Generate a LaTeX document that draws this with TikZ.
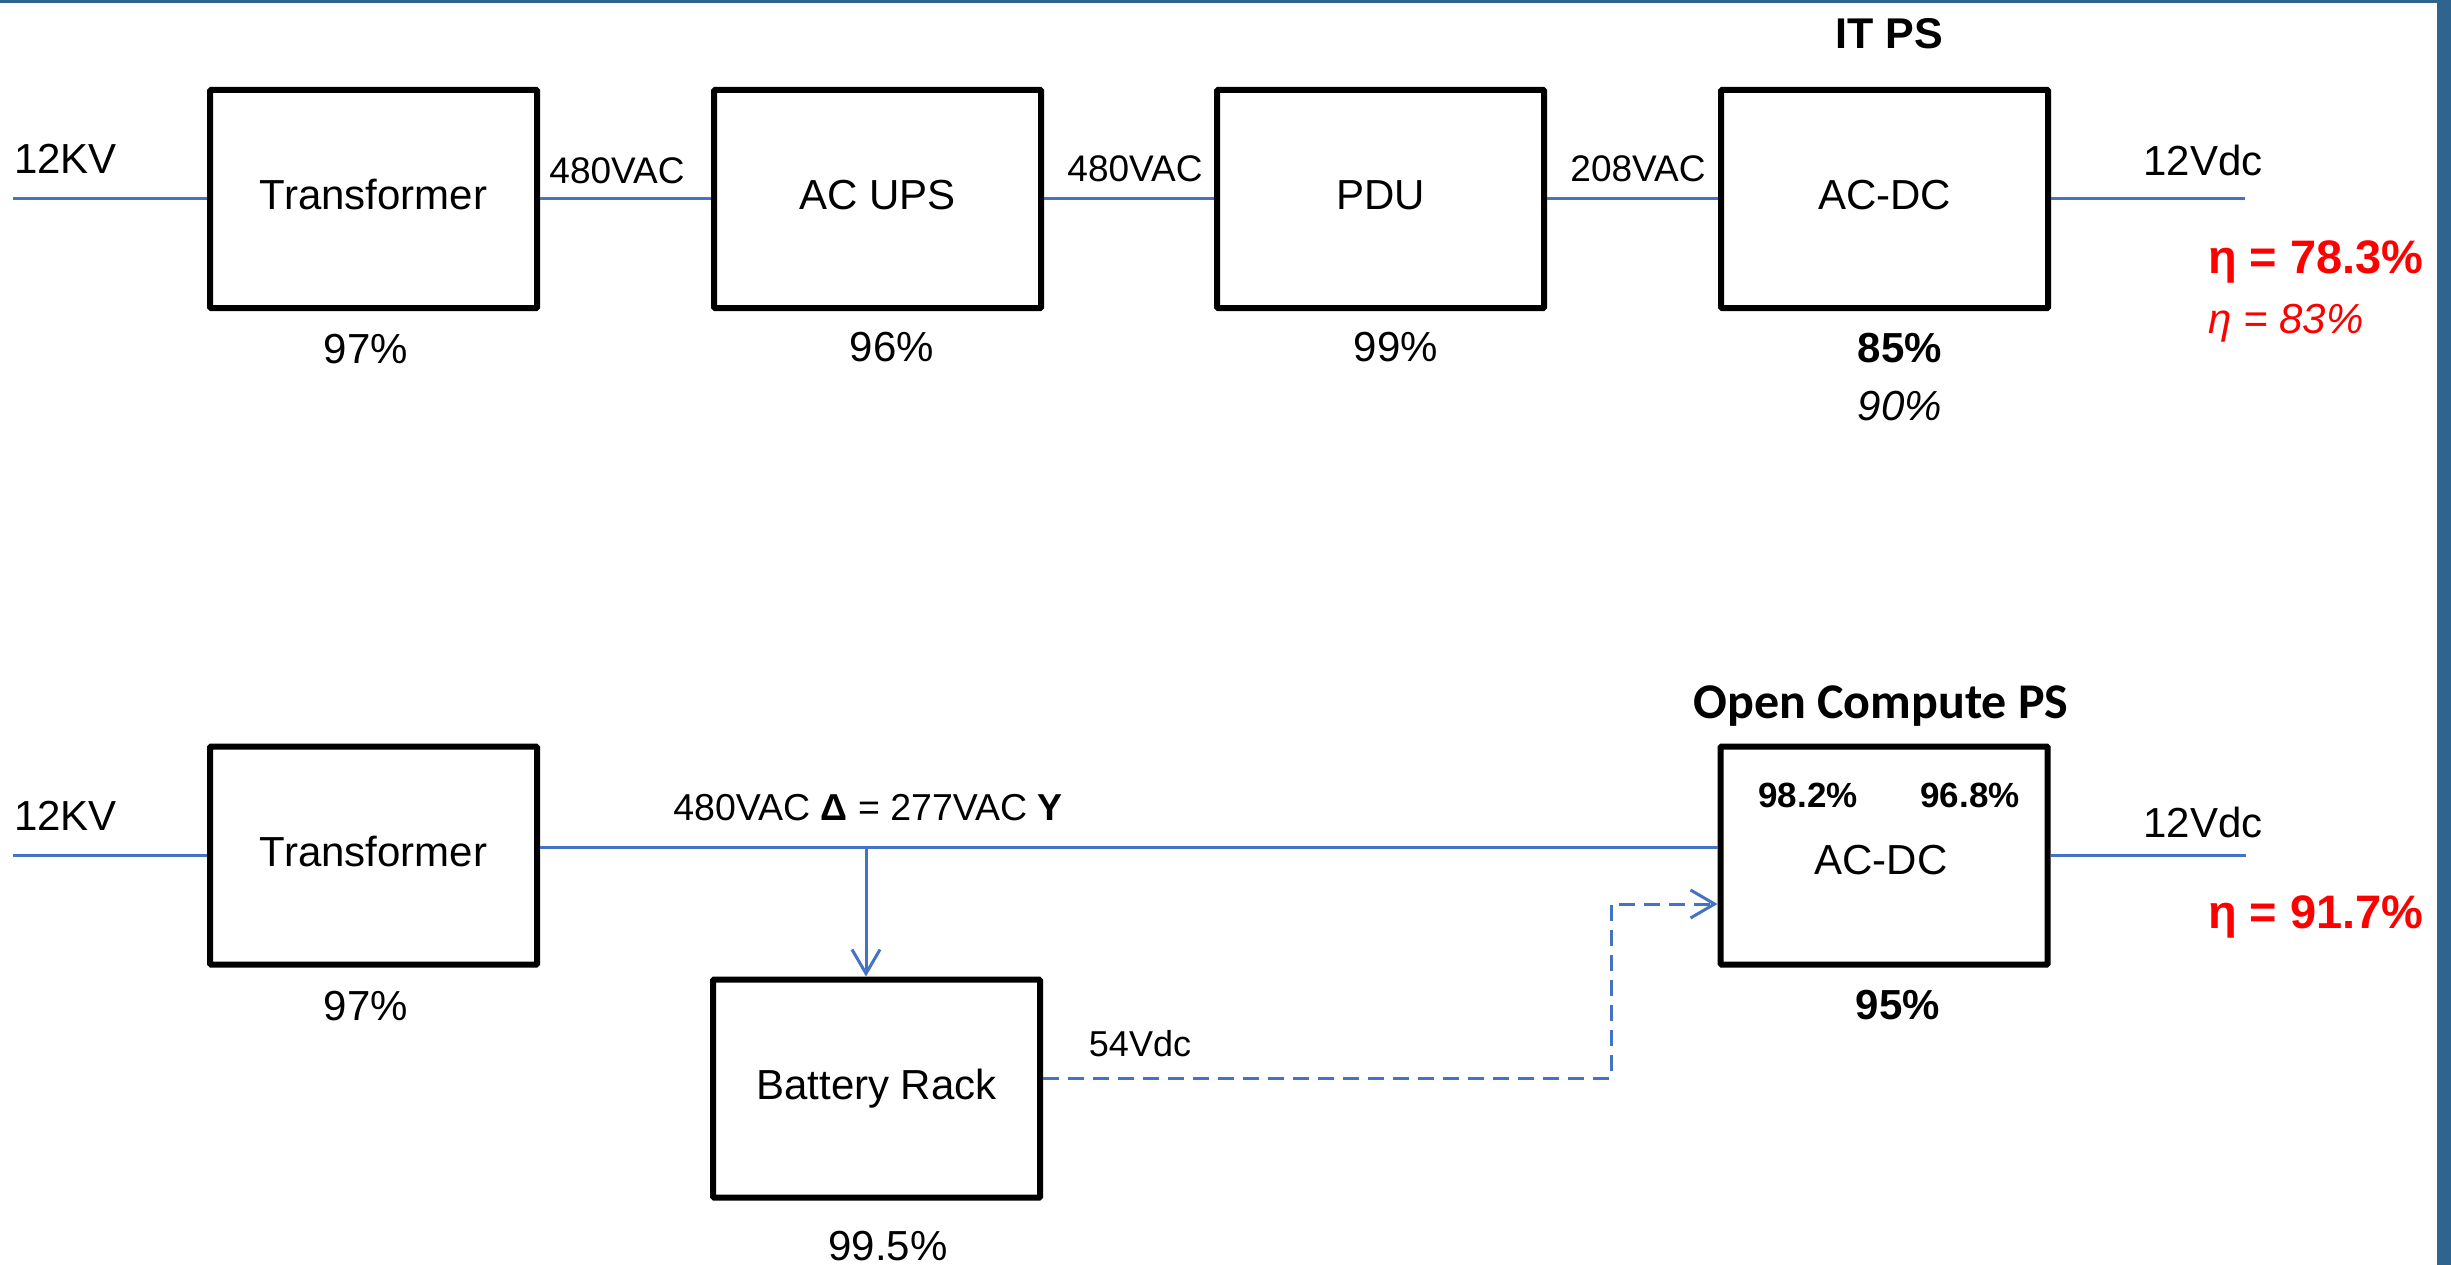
\documentclass[tikz,border=0pt]{standalone}
\usepackage{fontspec}
\setmainfont{Liberation Sans}
\newfontfamily\ocpfont{Carlito}
\usetikzlibrary{arrows.meta}
\definecolor{wireblue}{HTML}{4472C4}
\definecolor{framebar}{HTML}{2D6590}
\definecolor{effred}{HTML}{FF0000}
\newcommand{\pxsize}[1]{\fontsize{#1}{#1}\selectfont}
\begin{document}
\begin{tikzpicture}[x=1pt, y=-1pt,
  unit/.style={draw=black, line width=6pt, rounded corners=1pt,
    minimum width=327pt, minimum height=218pt, inner sep=0pt,
    font=\pxsize{42}, text height=30pt, text depth=8pt},
  txt/.style={inner sep=0pt, font=\pxsize{42}},
  volt/.style={inner sep=0pt, font=\pxsize{37}},
  wire/.style={draw=wireblue, line width=3pt},
  feed/.style={wire, dash pattern=on 16pt off 9pt},
  barb/.style={-{Straight Barb[length=24pt, width=28pt]}},
  eff/.style={inner sep=0pt, text=effred, anchor=base west}]

% canvas and frame
\useasboundingbox (0,0) rectangle (2451,1265);
\fill[white] (0,0) rectangle (2451,1265);
\fill[framebar] (0,0) rectangle (2451,3);
\fill[framebar] (2437,0) rectangle (2451,1265);

% ---------- conventional chain ----------
\node[unit] (xf1) at (373.5,199) {Transformer};
\node[unit] (ups) at (877.5,199) {AC UPS};
\node[unit] (pdu) at (1380.5,199) {PDU};
\node[unit] (psu1) at (1884.5,199) {AC-DC};

\coordinate (in1) at (13,199);
\coordinate (out1) at (2245,199);
\draw[wire] (in1) -- (xf1.west);
\draw[wire] (xf1.east) -- (ups.west);
\draw[wire] (ups.east) -- (pdu.west);
\draw[wire] (pdu.east) -- (psu1.west);
\draw[wire] (psu1.east) -- (out1);

\node[txt, anchor=west] (kv1) at (14,159) {12KV};
\node[volt] (v1) at (617,171) {480VAC};
\node[volt] (v2) at (1135,169) {480VAC};
\node[volt] (v3) at (1638,169) {208VAC};
\node[txt] (dc1) at (2203,160) {12Vdc};
\node[inner sep=0pt, font=\pxsize{43}\bfseries] (itps) at (1889,34) {IT PS};

\node[txt] (e11) at (366,349) {97\%};
\node[txt] (e12) at (892,347) {96\%};
\node[txt] (e13) at (1396,347) {99\%};
\node[txt, font=\pxsize{42}\bfseries] (e14) at (1900,348) {85\%};
\node[txt, font=\pxsize{42}\itshape] (e15) at (1900,406) {90\%};

\node[eff, font=\pxsize{47}\bfseries] (eta1) at (2208,273) {η = 78.3\%};
\node[eff, font=\pxsize{42}\itshape] (eta1b) at (2208,333) {η = 83\%};

% ---------- Open Compute chain ----------
\node[unit] (xf2) at (373.5,855.5) {Transformer};
\node[unit] (batt) at (876.5,1088.5) {Battery Rack};
\node[unit] (psu2) at (1884,855.5) {};
\node[txt] (psu2txt) at (1881,860) {AC-DC};

\coordinate (in2) at (13,855);
\coordinate (out2) at (2246,855.5);
\coordinate (tap) at (866,847);
\coordinate (bend1) at (1611,1078);
\coordinate (bend2) at (1611,904);

\draw[wire] (in2) -- (in2 -| xf2.west);
\draw[wire] ([yshift=8.5pt]xf2.east) -- ([yshift=8.5pt]psu2.west);
\draw[wire, barb] (tap) -- (tap |- batt.north);
\draw[wire] (psu2.east) -- (out2);
\draw[feed, barb] ([yshift=10.5pt]batt.east) -- (bend1) -- (bend2) -- (bend2 -| psu2.west);

\node[txt, anchor=west] (kv2) at (14,816) {12KV};
\node[volt, font=\pxsize{37.5}] (bus) at (868,808) {480VAC \textbf{Δ} = 277VAC \textbf{Y}};
\node[volt, font=\pxsize{36}] (v54) at (1140,1044) {54Vdc};
\node[txt] (dc2) at (2203,822) {12Vdc};
\node[inner sep=0pt, font=\ocpfont\bfseries\pxsize{50}, anchor=base] (ocp) at (1881,718) {Open Compute PS};
\node[inner sep=0pt, font=\pxsize{35}\bfseries] (p21) at (1808,795) {98.2\%};
\node[inner sep=0pt, font=\pxsize{35}\bfseries] (p22) at (1970,795) {96.8\%};

\node[txt] (e21) at (366,1006) {97\%};
\node[txt, font=\pxsize{42}\bfseries] (e22) at (1898,1005) {95\%};
\node[txt] (e23) at (888,1246) {99.5\%};

\node[eff, font=\pxsize{47}\bfseries] (eta2) at (2208,928) {η = 91.7\%};
\end{tikzpicture}
\end{document}
